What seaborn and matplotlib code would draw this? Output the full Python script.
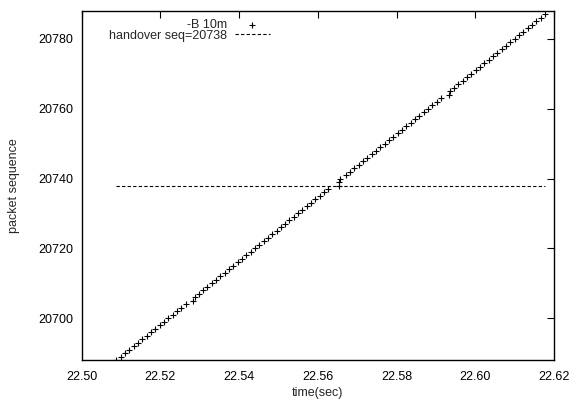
import matplotlib
matplotlib.use("Agg")
import matplotlib.pyplot as plt
import pandas as pd
import seaborn as sns

# packet sequence numbers and arrival times
seq = list(range(20688, 20788))
arrival_time = [
    22.5088, 22.5099, 22.5110, 22.5121, 22.5132, 22.5143, 22.5154, 22.5165,
    22.5176, 22.5187, 22.5198, 22.5209, 22.5220, 22.5231, 22.5242, 22.5253,
    22.5264, 22.5284, 22.5288, 22.5297, 22.5308, 22.5319, 22.5330, 22.5341,
    22.5352, 22.5363, 22.5374, 22.5385, 22.5396, 22.5407, 22.5418, 22.5429,
    22.5440, 22.5451, 22.5462, 22.5473, 22.5484, 22.5495, 22.5506, 22.5517,
    22.5528, 22.5539, 22.5550, 22.5561, 22.5572, 22.5583, 22.5594, 22.5605,
    22.5616, 22.5627, 22.5653, 22.5654, 22.5656, 22.5671, 22.5682, 22.5693,
    22.5704, 22.5715, 22.5726, 22.5737, 22.5748, 22.5759, 22.5770, 22.5781,
    22.5792, 22.5803, 22.5814, 22.5825, 22.5836, 22.5847, 22.5858, 22.5869,
    22.5880, 22.5891, 22.5902, 22.5913, 22.5932, 22.5936, 22.5946, 22.5957,
    22.5968, 22.5979, 22.5990, 22.6001, 22.6012, 22.6023, 22.6034, 22.6045,
    22.6056, 22.6067, 22.6078, 22.6089, 22.6100, 22.6111, 22.6122, 22.6133,
    22.6144, 22.6155, 22.6166, 22.6177,
]
handover_seq = 20738
handover_t = [22.5088, 22.6177]

x_ticks = [22.50, 22.52, 22.54, 22.56, 22.58, 22.60, 22.62]
y_ticks = [20700, 20720, 20740, 20760, 20780]

df = pd.DataFrame({"time": arrival_time, "seq": seq})
df_ho = pd.DataFrame({"time": handover_t, "seq": [handover_seq] * 2})

sns.set_style("white")
plt.rcParams["font.family"] = ["Liberation Sans", "DejaVu Sans"]

fig, ax = plt.subplots(figsize=(5.72, 4.01), dpi=100)
fig.subplots_adjust(left=0.1428, right=0.9685, bottom=0.1022, top=0.9726)

sns.scatterplot(data=df, x="time", y="seq", marker="+", color="black",
                s=18, linewidth=0.8, ax=ax, label="-B 10m")
sns.lineplot(data=df_ho, x="time", y="seq", color="black", linewidth=0.8,
             linestyle=(0, (3, 2)), ax=ax, label="handover seq=20738")

ax.set_xlim(22.50, 22.62)
ax.set_ylim(20688, 20788)
ax.set_xticks(x_ticks)
ax.set_xticklabels([f"{t:.2f}" for t in x_ticks])
ax.set_yticks(y_ticks)
ax.tick_params(direction="in", length=5, width=0.8, labelsize=9,
               top=True, right=True, colors="black", pad=6)
ax.tick_params(axis="x", pad=8)
for sp in ax.spines.values():
    sp.set_color("black")
    sp.set_linewidth(1.0)

ax.set_xlabel("time(sec)", fontsize=9, labelpad=3)
ax.set_ylabel("packet sequence", fontsize=9, labelpad=13)

ax.legend(loc="upper left", bbox_to_anchor=(0.041, 1.0), frameon=False,
          markerfirst=False, fontsize=9, handlelength=2.8,
          handletextpad=0.6, labelspacing=-0.12, borderpad=0.15)

fig.savefig("out.png", dpi=100)
